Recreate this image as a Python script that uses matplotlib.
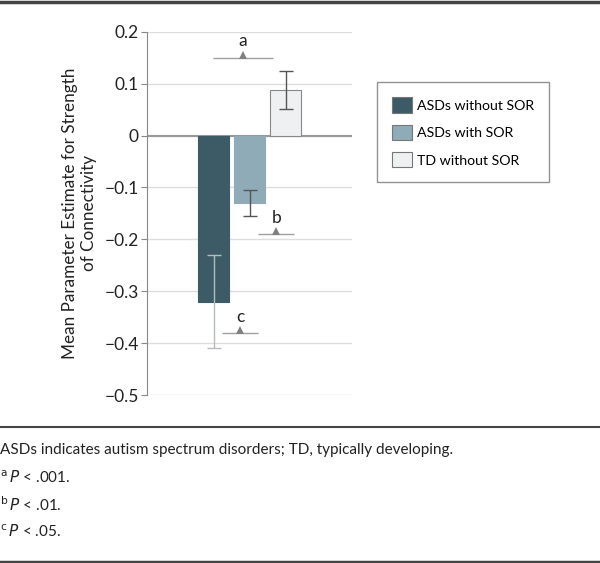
import matplotlib.pyplot as plt
import numpy as np
from matplotlib.lines import Line2D
from matplotlib.patches import Patch

plt.rcParams['font.family'] = ['Lato', 'DejaVu Sans']

# data
groups = ['ASDs without SOR', 'ASDs with SOR', 'TD without SOR']
means = [-0.32, -0.129, 0.088]
errs = [0.09, 0.025, 0.037]
bar_colors = ['#3d5b66', '#8eabb7', '#eef0f2']
err_colors = ['#b4bcc0', '#555555', '#555555']
yticks = [0.2, 0.1, 0, -0.1, -0.2, -0.3, -0.4, -0.5]
ytick_labels = ['0.2', '0.1', '0', '\u22120.1', '\u22120.2', '\u22120.3', '\u22120.4', '\u22120.5']

# significance brackets: (label, x start, x end, y)
sig_labels = ['a', 'b', 'c']
sig_x0 = [-0.01, 1.24, 0.24]
sig_x1 = [1.65, 2.24, 1.24]
sig_y = [0.15, -0.19, -0.381]

fig = plt.figure(figsize=(6, 5.63), dpi=100)
ax = fig.add_axes([0.245, 0.2984, 0.342, 0.645])

x = np.arange(len(groups))
for i in range(len(groups)):
    ax.bar(x[i], means[i], width=0.87, color=bar_colors[i],
           edgecolor='#888888' if i == 2 else bar_colors[i], linewidth=0.8, zorder=3)
    ax.errorbar(x[i], means[i], yerr=errs[i], fmt='none', ecolor=err_colors[i],
                elinewidth=1.0, capsize=5, capthick=1.0, zorder=4)

for lab, x0, x1, y in zip(sig_labels, sig_x0, sig_x1, sig_y):
    ax.plot([x0, x1], [y, y], color='#a0a0a0', lw=1.0, zorder=4, solid_capstyle='butt')
    ax.plot([(x0 + x1) / 2], [y + 0.006], marker='^', color='#808080', ms=6,
            markeredgewidth=0, zorder=5)
    ax.text((x0 + x1) / 2, y + 0.032, lab, ha='center', va='center',
            fontsize=12.5, color='#222222')

ax.set_xlim(-1.85, 3.85)
ax.set_ylim(-0.5, 0.2)
ax.set_yticks(yticks)
ax.set_yticklabels(ytick_labels, fontsize=12.5, color='#222222')
ax.set_xticks([])
ax.grid(axis='y', color='#dddddd', lw=1.0, zorder=0)
ax.axhline(0, color='#999999', lw=1.5, zorder=2)
for s in ['top', 'right', 'bottom']:
    ax.spines[s].set_visible(False)
ax.spines['left'].set_color('#888888')
ax.tick_params(axis='y', length=4, color='#888888', pad=2)
ax.set_ylabel('Mean Parameter Estimate for Strength\nof Connectivity',
              fontsize=12.3, color='#222222', labelpad=5, linespacing=1.25)

handles = [Patch(facecolor=c, edgecolor='#777777', linewidth=0.8) for c in bar_colors]
leg = fig.legend(handles, groups, loc='upper left', bbox_to_anchor=(0.628, 0.854),
                 fontsize=10.2, frameon=True, fancybox=False, edgecolor='#777777',
                 handlelength=1.4, handleheight=1.3, handletextpad=0.4,
                 labelspacing=0.85, borderpad=1.05, borderaxespad=0)
leg.get_frame().set_linewidth(1.0)

# rules and footnote
fig.add_artist(Line2D([0, 1], [1 - 1.5 / 563] * 2, color='#444444', lw=2.5))
fig.add_artist(Line2D([0, 1], [1 - 427 / 563] * 2, color='#444444', lw=1.5))
fig.add_artist(Line2D([0, 1], [1 - 561.5 / 563] * 2, color='#444444', lw=2.5))

fig.text(0.0, 1 - 450 / 563, 'ASDs indicates autism spectrum disorders; TD, typically developing.',
         fontsize=11, va='center', color='#222222')
for i, (sup, p) in enumerate(zip(['a', 'b', 'c'], ['.001', '.01', '.05'])):
    yy = 1 - (478 + 27 * i) / 563
    fig.text(0.0, yy, r'$^{\mathrm{' + sup + r'}}$' + r'$\,P$' + ' < ' + p + '.',
             fontsize=11, va='center', color='#222222')

fig.savefig('out.png', dpi=100)
